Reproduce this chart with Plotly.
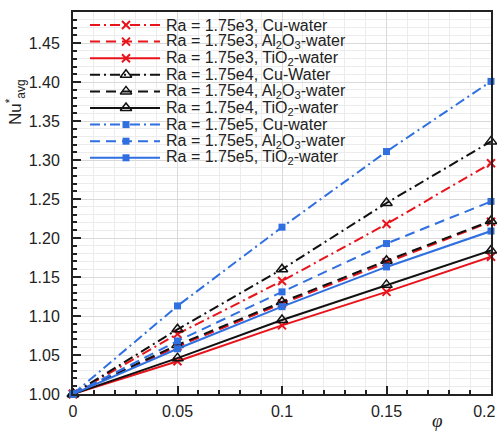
import plotly.graph_objects as go

# Volume fraction of nanoparticles
phi = [0, 0.05, 0.1, 0.15, 0.2]

# Axis tick positions and labels (last x label padded so it stays inside the page)
x_ticks = [0, 0.05, 0.1, 0.15, 0.2]
x_tick_text = ["0", "0.05", "0.1", "0.15", "0.2\u00a0\u00a0\u00a0"]
y_ticks = [1.00, 1.05, 1.10, 1.15, 1.20, 1.25, 1.30, 1.35, 1.40, 1.45]

# Normalised average Nusselt number, one list per Ra / nanofluid pair
nu_ra3_cu = [1.0, 1.077, 1.145, 1.218, 1.296]
nu_ra3_al = [1.0, 1.061, 1.116, 1.169, 1.221]
nu_ra3_ti = [1.0, 1.042, 1.088, 1.131, 1.176]
nu_ra4_cu = [1.0, 1.083, 1.160, 1.245, 1.324]
nu_ra4_al = [1.0, 1.063, 1.118, 1.171, 1.222]
nu_ra4_ti = [1.0, 1.046, 1.095, 1.140, 1.184]
nu_ra5_cu = [1.0, 1.113, 1.214, 1.311, 1.401]
nu_ra5_al = [1.0, 1.068, 1.131, 1.193, 1.247]
nu_ra5_ti = [1.0, 1.058, 1.112, 1.163, 1.209]

labels = [
    "Ra = 1.75e3, Cu-water",
    "Ra = 1.75e3, Al<sub>2</sub>O<sub>3</sub>-water",
    "Ra = 1.75e3, TiO<sub>2</sub>-water",
    "Ra = 1.75e4, Cu-Water",
    "Ra = 1.75e4, Al<sub>2</sub>O<sub>3</sub>-water",
    "Ra = 1.75e4, TiO<sub>2</sub>-water",
    "Ra = 1.75e5, Cu-water",
    "Ra = 1.75e5, Al<sub>2</sub>O<sub>3</sub>-water",
    "Ra = 1.75e5, TiO<sub>2</sub>-water",
]

RED, BLACK, BLUE = "#e8131b", "#111111", "#2f6fe0"
DASHDOT = "10px,4px,2px,4px"
DASH = "10px,6px"

marker_red = dict(symbol="x-thin", size=8, color=RED, line=dict(width=2, color=RED))
marker_black = dict(symbol="triangle-up-open", size=10, color=BLACK, line=dict(width=1.5, color=BLACK))
marker_blue = dict(symbol="square", size=7, color=BLUE, line=dict(width=0))

series = [
    (nu_ra3_cu, RED, DASHDOT, marker_red),
    (nu_ra3_al, RED, DASH, marker_red),
    (nu_ra3_ti, RED, "solid", marker_red),
    (nu_ra4_cu, BLACK, DASHDOT, marker_black),
    (nu_ra4_al, BLACK, DASH, marker_black),
    (nu_ra4_ti, BLACK, "solid", marker_black),
    (nu_ra5_cu, BLUE, DASHDOT, marker_blue),
    (nu_ra5_al, BLUE, DASH, marker_blue),
    (nu_ra5_ti, BLUE, "solid", marker_blue),
]

W, H = 497, 433
ML, MR, MT, MB = 73, 6, 12, 39
PW, PH = W - ML - MR, H - MT - MB

fig = go.Figure()

for (vals, col, dash, mk), lab in zip(series, labels):
    fig.add_trace(go.Scatter(
        x=phi, y=vals, mode="lines+markers", name=lab,
        line=dict(color=col, width=2, dash=dash), marker=mk,
        showlegend=False, cliponaxis=False,
    ))

# Hand-drawn legend on a pixel-scaled overlay axis (origin at plot top-left)
row0, row_step = 13, 16.6
x_l0, x_l1, x_mk, x_txt = 17, 87, 53, 91
for i, ((vals, col, dash, mk), lab) in enumerate(zip(series, labels)):
    yy = row0 + i * row_step
    fig.add_trace(go.Scatter(
        x=[x_l0, x_l1], y=[yy, yy], mode="lines",
        line=dict(color=col, width=2, dash=dash),
        xaxis="x2", yaxis="y2", showlegend=False, hoverinfo="skip",
    ))
    fig.add_trace(go.Scatter(
        x=[x_mk], y=[yy], mode="markers", marker=mk,
        xaxis="x2", yaxis="y2", showlegend=False, hoverinfo="skip",
    ))
    fig.add_annotation(
        x=x_txt, y=yy, xref="x2", yref="y2", text=lab, showarrow=False,
        xanchor="left", yanchor="middle",
        font=dict(family="Liberation Sans, Arial", size=16, color="#222"),
    )

# White backing behind the legend (covers grid lines only)
fig.add_shape(
    type="rect", xref="paper", yref="paper", layer="between",
    x0=2 / PW, x1=312 / PW, y0=1 - 156 / PH, y1=1 - 1 / PH,
    fillcolor="white", line=dict(width=0),
)

tick_font = dict(family="Liberation Sans, Arial", size=16, color="#222")

fig.update_layout(
    width=W, height=H,
    margin=dict(l=ML, r=MR, t=MT, b=MB, autoexpand=False),
    paper_bgcolor="white", plot_bgcolor="white",
    xaxis=dict(
        range=[0, 0.2], tickmode="array", tickvals=x_ticks, ticktext=x_tick_text,
        ticklabeloverflow="allow", automargin=False,
        showline=True, linecolor="#222", linewidth=2, mirror=True,
        ticks="inside", ticklen=8, tickwidth=1.5, tickcolor="#222",
        showgrid=True, gridcolor="#d9d9d9", gridwidth=1,
        zeroline=False, tickfont=tick_font, ticklabelstandoff=2,
        minor=dict(dtick=0.01, tick0=0, ticks="inside", ticklen=4, tickcolor="#222",
                   showgrid=True, gridcolor="#ececec", gridwidth=1),
    ),
    yaxis=dict(
        range=[1.0, 1.49], tickmode="array", tickvals=y_ticks,
        ticktext=[f"{v:.2f}" for v in y_ticks], automargin=False,
        showline=True, linecolor="#222", linewidth=2, mirror=True,
        ticks="inside", ticklen=8, tickwidth=1.5, tickcolor="#222",
        showgrid=True, gridcolor="#d9d9d9", gridwidth=1,
        zeroline=False, tickfont=tick_font, ticklabelstandoff=8,
        minor=dict(dtick=0.01, tick0=1.0, ticks="inside", ticklen=4, tickcolor="#222",
                   showgrid=True, gridcolor="#ececec", gridwidth=1),
    ),
    xaxis2=dict(range=[0, PW], overlaying="x", visible=False, fixedrange=True),
    yaxis2=dict(range=[PH, 0], overlaying="y", visible=False, fixedrange=True),
    showlegend=False,
)

# Axis titles
fig.add_annotation(
    x=(16 - ML) / PW, y=1 - (102 - MT) / PH, xref="paper", yref="paper",
    xanchor="center", yanchor="middle",
    text="Nu<sup>*</sup><sub>avg</sub>", textangle=-90, showarrow=False,
    font=dict(family="Liberation Sans, Arial", size=17, color="#222"),
)
fig.add_annotation(
    x=(437 - ML) / PW, y=1 - (420 - MT) / PH, xref="paper", yref="paper",
    xanchor="center", yanchor="middle",
    text="<i>φ</i>", showarrow=False,
    font=dict(family="Liberation Serif, DejaVu Serif", size=19, color="#222"),
)

fig.write_html("out.html")
